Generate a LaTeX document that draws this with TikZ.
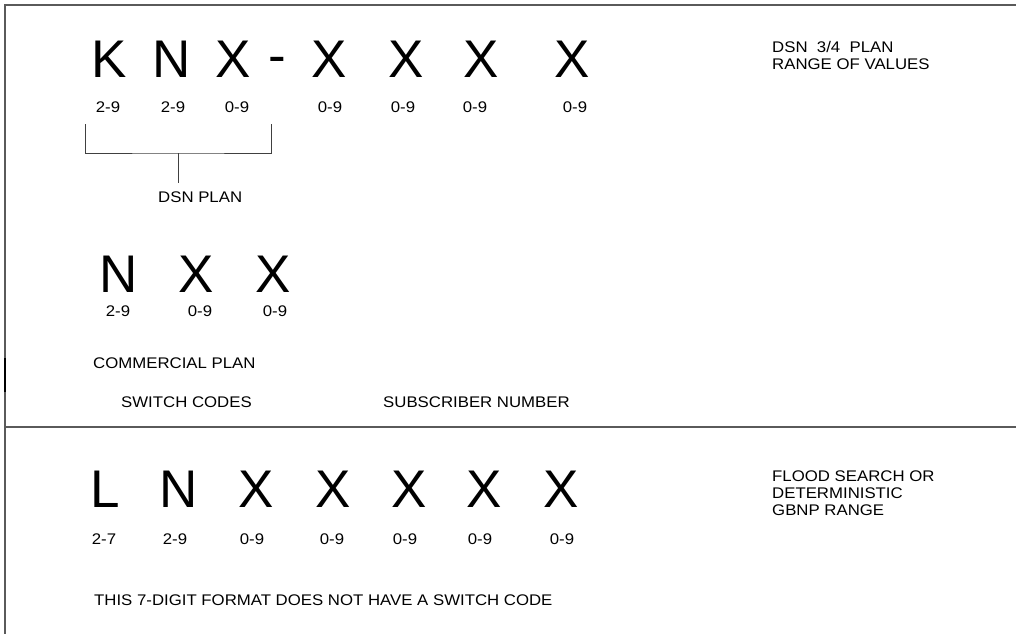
\documentclass[tikz,border=0pt]{standalone}
\usepackage{fontspec}
\setmainfont{Liberation Sans}
\newfontfamily\plotfont[FakeStretch=1.09]{Liberation Sans}
\usetikzlibrary{positioning}
\definecolor{RuleGray}{HTML}{5A5A5A}

\begin{document}
\begin{tikzpicture}[
        x=1pt, y=-1pt,
        digit/.style={inner sep=0pt, font=\fontsize{53}{53}\selectfont},
        rangelabel/.style={inner sep=0pt, font=\plotfont\fontsize{15.4}{17}\selectfont},
        caption/.style={
            inner sep=0pt,
            anchor=north west,
            align=left,
            font=\plotfont\fontsize{15.4}{17}\selectfont
        },
        rule/.style={RuleGray, line width=1.3pt},
        brace/.style={black!75, line width=0.9pt}
    ]
        \useasboundingbox (0,0) rectangle (1016,634);

        % frame
        \coordinate (tl) at (5,5);
        \coordinate (tr) at (1016,5);
        \coordinate (bl) at (5,634);
        \coordinate (ml) at (5,427);
        \coordinate (mr) at (1016,427);
        \draw[rule] (tr) -- (tl) -- (bl);
        \draw[rule] (ml) -- (mr);
        \draw[black, line width=1.6pt] (5,358) -- (5,392);

        % DSN 3/4 plan
        \node[digit] (k1) at (109,59) {K};
        \node[digit] (n1) at (172,59) {N};
        \node[digit] (x1) at (233,59) {X};
        \node[digit] (dash) at (277,65.5) {-};
        \node[digit] (x2) at (329,59) {X};
        \node[digit] (x3) at (406,59) {X};
        \node[digit] (x4) at (481,59) {X};
        \node[digit] (x5) at (572,59) {X};
        \node[rangelabel] (rk1) at (108,107.5) {2-9};
        \node[rangelabel] (rn1) at (173,107.5) {2-9};
        \node[rangelabel] (rx1) at (237,107.5) {0-9};
        \node[rangelabel] (rx2) at (330,107.5) {0-9};
        \node[rangelabel] (rx3) at (403,107.5) {0-9};
        \node[rangelabel] (rx4) at (475,107.5) {0-9};
        \node[rangelabel] (rx5) at (575,107.5) {0-9};
        \node[caption] (dsnrange) at (772,41) {DSN\ \ 3/4\ \ PLAN\\RANGE OF VALUES};

        % bracket over the switch code
        \coordinate (brL) at (85,124);
        \coordinate (brR) at (271,124);
        \coordinate (brM) at (178,153);
        \draw[brace] (brL) |- (brM) -| (brR);
        \draw[brace] (brM) -- ++(0,30);
        \node[caption] (dsnplan) at (158,192) {DSN PLAN};

        % commercial plan
        \node[digit] (n2) at (119,274) {N};
        \node[digit] (x6) at (196,274) {X};
        \node[digit] (x7) at (273,274) {X};
        \node[rangelabel] (rn2) at (118,311) {2-9};
        \node[rangelabel] (rx6) at (200,311) {0-9};
        \node[rangelabel] (rx7) at (275,311) {0-9};
        \node[caption] (commercial) at (93,358) {COMMERCIAL PLAN};
        \node[caption] (switch) at (121,397) {SWITCH CODES};
        \node[caption] (subscriber) at (383,397) {SUBSCRIBER NUMBER};

        % flood search / deterministic
        \node[digit] (l3) at (105,489) {L};
        \node[digit] (n3) at (179,489) {N};
        \node[digit] (x8) at (256,489) {X};
        \node[digit] (x9) at (333,489) {X};
        \node[digit] (x10) at (409,489) {X};
        \node[digit] (x11) at (484,489) {X};
        \node[digit] (x12) at (561,489) {X};
        \node[rangelabel] (rl3) at (104,539) {2-7};
        \node[rangelabel] (rn3) at (175,539) {2-9};
        \node[rangelabel] (rx8) at (252,539) {0-9};
        \node[rangelabel] (rx9) at (332,539) {0-9};
        \node[rangelabel] (rx10) at (405,539) {0-9};
        \node[rangelabel] (rx11) at (480,539) {0-9};
        \node[rangelabel] (rx12) at (562,539) {0-9};
        \node[caption] (gbnp) at (772,471) {FLOOD SEARCH OR\\DETERMINISTIC\\GBNP RANGE};
        \node[caption] (nocode) at (94,595) {THIS 7-DIGIT FORMAT DOES NOT HAVE A SWITCH CODE};
    \end{tikzpicture}
\end{document}
